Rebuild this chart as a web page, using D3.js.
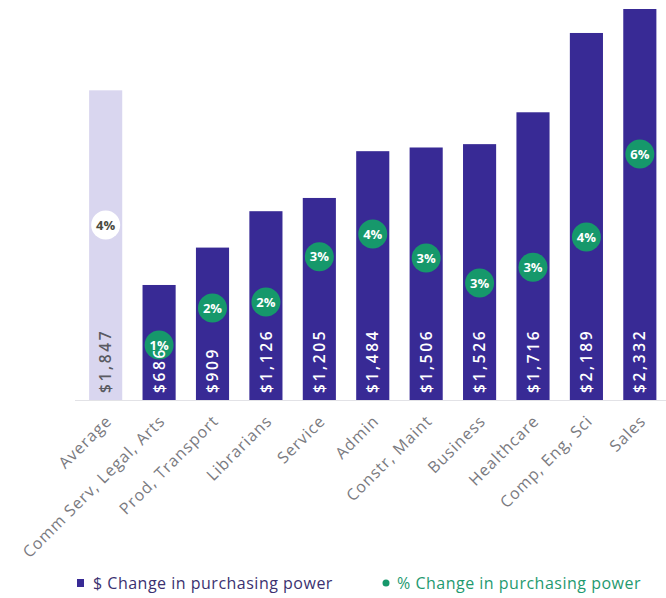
<!DOCTYPE html>
<html>
<head>
<meta charset="utf-8">
<script src="https://cdn.jsdelivr.net/npm/d3@7"></script>
<style>
  html, body { margin: 0; padding: 0; background: #fff; }
  svg { display: block; font-family: "Open Sans", "Noto Sans", sans-serif; }
</style>
</head>
<body>
<svg id="chart" width="666" height="598"></svg>
<script>
// Occupation groups, average first
const categories = ["Average", "Comm Serv, Legal, Arts", "Prod, Transport", "Librarians", "Service",
  "Admin", "Constr, Maint", "Business", "Healthcare", "Comp, Eng, Sci", "Sales"];
// $ change in purchasing power
const dollarChange = [1847, 686, 909, 1126, 1205, 1484, 1506, 1526, 1716, 2189, 2332];
// % change in purchasing power
const pctChange = [4.07, 1.28, 2.14, 2.28, 3.33, 3.86, 3.30, 2.72, 3.09, 3.79, 5.72];
// Legend entries
const legendLabels = ["$ Change in purchasing power", "% Change in purchasing power"];

const svg = d3.select("#chart");
const baseY = 400;

const x = d3.scaleBand()
  .domain(categories)
  .range([79.5, 666])
  .paddingInner(0.38)
  .paddingOuter(0.18);

const y = d3.scaleLinear().domain([0, 2332]).range([baseY, 9]);
const yPct = d3.scaleLinear().domain([0, 9]).range([baseY, 13]);

const fmtDollar = d3.format("$,");
const fmtPct = v => d3.format(".0f")(v) + "%";

// baseline
svg.append("line")
  .attr("x1", 75).attr("x2", 666)
  .attr("y1", baseY + 0.5).attr("y2", baseY + 0.5)
  .attr("stroke", "#e2e2e6").attr("stroke-width", 1);

// bars
svg.append("g").selectAll("rect")
  .data(categories)
  .join("rect")
  .attr("x", d => x(d))
  .attr("width", x.bandwidth())
  .attr("y", (d, i) => y(dollarChange[i]))
  .attr("height", (d, i) => baseY - y(dollarChange[i]))
  .attr("fill", (d, i) => i === 0 ? "#d9d6ef" : "#382a95");

// % markers
const dots = svg.append("g").selectAll("g")
  .data(categories)
  .join("g")
  .attr("transform", (d, i) => `translate(${x(d) + x.bandwidth() / 2},${yPct(pctChange[i])})`);

dots.append("circle")
  .attr("r", 14.5)
  .attr("fill", (d, i) => i === 0 ? "#ffffff" : "#16986b");

dots.append("text")
  .attr("text-anchor", "middle")
  .attr("dy", "0.36em")
  .attr("font-size", 13)
  .attr("font-weight", 700)
  .attr("fill", (d, i) => i === 0 ? "#4b4b3e" : "#ffffff")
  .text((d, i) => fmtPct(pctChange[i]));

// $ labels inside bars, vertical (drawn above the markers)
svg.append("g").selectAll("text")
  .data(categories)
  .join("text")
  .attr("transform", d => `translate(${x(d) + x.bandwidth() / 2},${baseY - 7}) rotate(-90)`)
  .attr("dy", "0.36em")
  .attr("text-anchor", "start")
  .attr("font-size", 15.5)
  .attr("font-weight", 600)
  .attr("letter-spacing", "2.6px")
  .attr("fill", (d, i) => i === 0 ? "#5a5a62" : "#ffffff")
  .text((d, i) => fmtDollar(dollarChange[i]));

// category labels, angled
svg.append("g").selectAll("text")
  .data(categories)
  .join("text")
  .attr("transform", d => `translate(${x(d) + x.bandwidth() / 2 + 3},${baseY + 18}) rotate(-45)`)
  .attr("text-anchor", "end")
  .attr("dy", "0.36em")
  .attr("font-size", 16)
  .attr("letter-spacing", "1px")
  .attr("fill", "#7a7a80")
  .text(d => d);

// legend
const legend = svg.append("g");
legend.append("rect")
  .attr("x", 77).attr("y", 579).attr("width", 7).attr("height", 8)
  .attr("fill", "#382a95");
legend.append("text")
  .attr("x", 93).attr("y", 583).attr("dy", "0.36em")
  .attr("font-size", 16).attr("letter-spacing", "0.5px").attr("fill", "#3b3170")
  .text(legendLabels[0]);
legend.append("circle")
  .attr("cx", 386).attr("cy", 583).attr("r", 3.5)
  .attr("fill", "#16986b");
legend.append("text")
  .attr("x", 397).attr("y", 583).attr("dy", "0.36em")
  .attr("font-size", 16).attr("letter-spacing", "0.5px").attr("fill", "#1f9a70")
  .text(legendLabels[1]);
</script>
</body>
</html>
